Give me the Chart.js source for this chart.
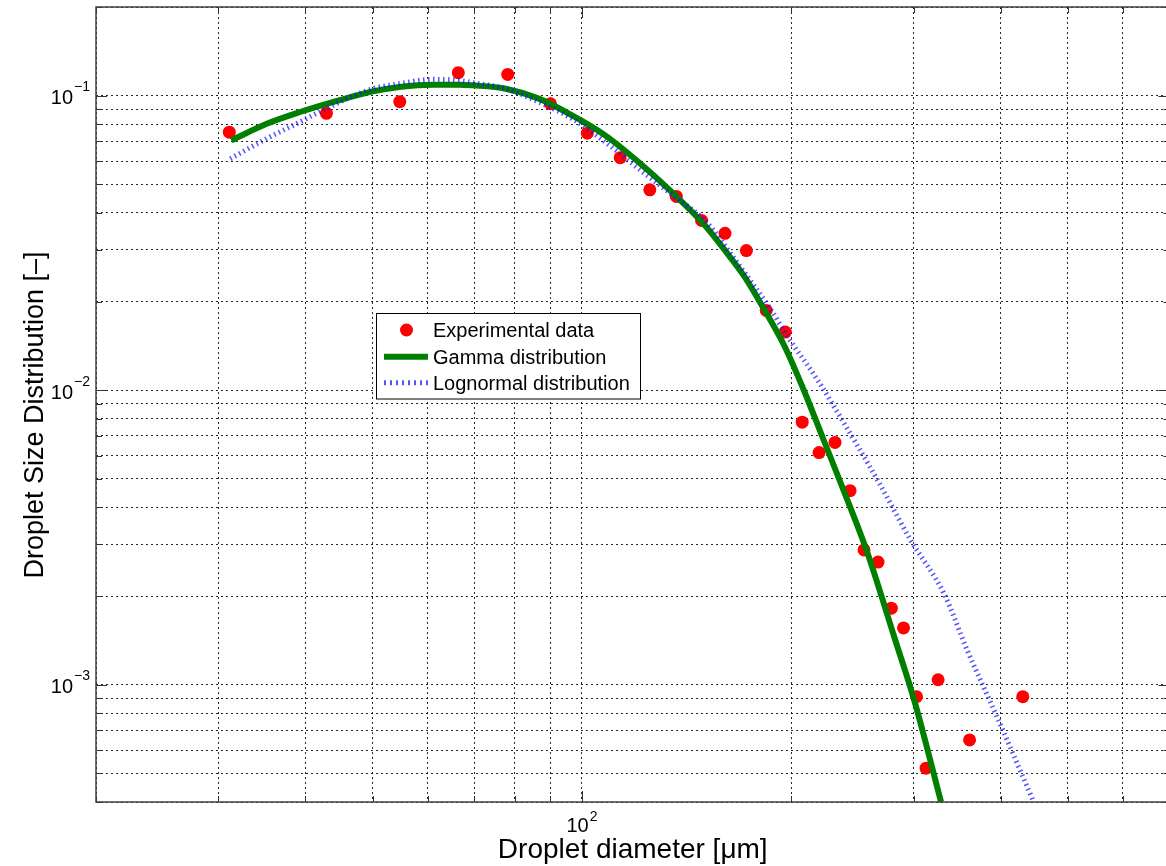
<!DOCTYPE html>
<html>
<head>
<meta charset="utf-8">
<script src="https://cdn.jsdelivr.net/npm/chart.js@4.4.0/dist/chart.umd.min.js"></script>
<style>
  html, body { margin: 0; padding: 0; background: #fff; overflow: hidden; }
  #wrap { width: 1166px; height: 866px; overflow: hidden; }
</style>
</head>
<body>
<div id="wrap"><canvas id="dsdChart" width="1176" height="866"></canvas></div>
<script>
// Experimental data (diameter in µm, distribution [-])
const expDiameter = [31.1, 42.9, 54.7, 66.4, 78.2, 90.1, 101.8, 113.5, 125.2, 136.7, 148.6, 160.6, 172.4, 184.1,
    196.1, 207.4, 219.3, 231.2, 243.0, 254.5, 266.6, 278.6, 290.1, 302.8, 312.6, 325.3, 361.0, 430.6];
const expDsd = [0.0752, 0.0871, 0.0954, 0.1197, 0.1181, 0.0939, 0.0746, 0.0616, 0.0479, 0.0455, 0.0377, 0.0341, 0.0298, 0.01866,
    0.01575, 0.00779, 0.00614, 0.00665, 0.00456, 0.00287, 0.00261, 0.00182, 0.00156, 0.000911, 0.000521, 0.00104, 0.00065, 0.000911];

// Gamma fit
const gammaDiameter = [31.3, 35.2, 39.3, 43.8, 50.0, 54.6, 61.0, 66.6, 69.6, 77.7, 86.7, 96.8, 108, 120.6,
    134.6, 150.3, 160.6, 171.5, 183.2, 195.7, 208.6, 222.8, 238.5, 257.6, 281.4, 300.6, 328.5];
const gammaDsd = [0.0705, 0.0803, 0.088, 0.0951, 0.1034, 0.107, 0.109, 0.109, 0.1084, 0.1056, 0.0977, 0.0857, 0.0733, 0.0595,
    0.0471, 0.03627, 0.02983, 0.02421, 0.01866, 0.01408, 0.00998, 0.00675, 0.0045, 0.00279, 0.00145, 0.000885, 0.0004];

// Lognormal fit
const lognDiameter = [31.2, 35.2, 39.3, 43.8, 50.0, 54.6, 61.0, 66.6, 69.6, 77.7, 86.7, 96.8, 108, 120.6,
    136.1, 150.3, 167.7, 187.2, 197.8, 218.4, 238.5, 266.3, 297.2, 331.7, 358.3, 395.6, 446.6];
const lognDsd = [0.0611, 0.0715, 0.0814, 0.0927, 0.1056, 0.1098, 0.1136, 0.1127, 0.1107, 0.1056, 0.0951, 0.0835, 0.0696, 0.0565,
    0.04525, 0.0377, 0.02689, 0.01866, 0.01515, 0.0108, 0.00769, 0.00494, 0.00309, 0.00204, 0.001308, 0.000776, 0.000399];

// ticks / grid
const xGridTicks = [20, 30, 40, 50, 60, 70, 80, 90, 100, 200, 300, 400, 500, 600, 700];
const xLabelTicks = [100];
const yGridTicks = [0.0004, 0.0005, 0.0006, 0.0007, 0.0008, 0.0009, 0.001,
    0.002, 0.003, 0.004, 0.005, 0.006, 0.007, 0.008, 0.009, 0.01,
    0.02, 0.03, 0.04, 0.05, 0.06, 0.07, 0.08, 0.09, 0.1, 0.2];
const yLabelTicks = [0.001, 0.01, 0.1];

const FONT = '"Liberation Sans", Arial, Helvetica, sans-serif';

function pts(xs, ys) {
    return xs.map((v, i) => ({ x: v, y: ys[i] }));
}

function expText(v) {
    const e = Math.round(Math.log10(v));
    return String(e).replace('-', '\u2212');
}

// MATLAB-like frame, inward ticks, 10^n labels, axis titles and legend
const matlabAxes = {
    id: 'matlabAxes',
    afterDraw(chart) {
        const { ctx, chartArea: a, scales: { x, y } } = chart;
        ctx.save();

        // inward ticks on all four sides
        ctx.strokeStyle = '#333';
        ctx.lineWidth = 1;
        ctx.beginPath();
        xGridTicks.forEach(v => {
            const px = Math.round(x.getPixelForValue(v)) + 0.5;
            const len = xLabelTicks.includes(v) ? 11 : 6;
            ctx.moveTo(px, a.bottom); ctx.lineTo(px, a.bottom - len);
            ctx.moveTo(px, a.top); ctx.lineTo(px, a.top + len);
        });
        yGridTicks.forEach(v => {
            const py = Math.round(y.getPixelForValue(v)) + 0.5;
            const len = yLabelTicks.includes(v) ? 11 : 6;
            ctx.moveTo(a.left, py); ctx.lineTo(a.left + len, py);
            ctx.moveTo(a.right, py); ctx.lineTo(a.right - len, py);
        });
        ctx.stroke();

        ctx.strokeStyle = '#404040';
        ctx.lineWidth = 1.5;
        ctx.strokeRect(a.left, a.top, a.right - a.left, a.bottom - a.top);

        // tick labels 10^n
        ctx.fillStyle = '#000';
        ctx.textAlign = 'left';
        ctx.textBaseline = 'alphabetic';
        const base = '20px ' + FONT, sup = '14px ' + FONT;
        yLabelTicks.forEach(v => {
            const py = y.getPixelForValue(v);
            ctx.font = base; const w1 = ctx.measureText('10').width;
            ctx.font = sup; const w2 = ctx.measureText(expText(v)).width;
            const x0 = a.left - 6 - (w1 + w2 + 1);
            ctx.font = base; ctx.fillText('10', x0, py + 8.5);
            ctx.font = sup; ctx.fillText(expText(v), x0 + w1 + 1, py - 4.5);
        });
        xLabelTicks.forEach(v => {
            const px = x.getPixelForValue(v);
            ctx.font = base; const w1 = ctx.measureText('10').width;
            ctx.font = sup; const w2 = ctx.measureText(expText(v)).width;
            const x0 = px - (w1 + w2 + 1) / 2;
            ctx.font = base; ctx.fillText('10', x0, a.bottom + 30);
            ctx.font = sup; ctx.fillText(expText(v), x0 + w1 + 1, a.bottom + 18.5);
        });

        // axis titles
        ctx.font = '28px ' + FONT;
        ctx.textAlign = 'center';
        ctx.fillText('Droplet diameter [\u03bcm]', (a.left + a.right) / 2, a.bottom + 56);
        ctx.save();
        ctx.font = '27px ' + FONT;
        ctx.translate(43, 415);
        ctx.rotate(-Math.PI / 2);
        ctx.fillText('Droplet Size Distribution [\u2013]', 0, 0);
        ctx.restore();

        // legend box
        const lx = 376.5, ly = 313.5, lw = 264, lh = 85.5;
        ctx.fillStyle = '#fff';
        ctx.fillRect(lx, ly, lw, lh);
        ctx.strokeStyle = '#000';
        ctx.lineWidth = 1;
        ctx.strokeRect(lx, ly, lw, lh);

        const ds = chart.data.datasets;
        const rows = [330, 356.7, 382.7];
        ctx.font = '20px ' + FONT;
        ctx.textAlign = 'left';
        ds.forEach((d, i) => {
            const cy = rows[i];
            if (d.showLine === false) {
                ctx.fillStyle = d.pointBackgroundColor;
                ctx.beginPath();
                ctx.arc(406.5, cy, d.pointRadius, 0, Math.PI * 2);
                ctx.fill();
            } else {
                ctx.strokeStyle = d.borderColor;
                ctx.lineWidth = d.borderWidth;
                ctx.setLineDash(d.legendDash || []);
                ctx.beginPath();
                ctx.moveTo(384, cy); ctx.lineTo(428, cy);
                ctx.stroke();
                ctx.setLineDash([]);
            }
            ctx.fillStyle = '#000';
            ctx.fillText(d.label, 433, cy + 7);
        });

        ctx.restore();
    }
};

const ctx = document.getElementById('dsdChart').getContext('2d');

new Chart(ctx, {
    type: 'scatter',
    data: {
        datasets: [
            {
                label: 'Experimental data',
                data: pts(expDiameter, expDsd),
                showLine: false,
                pointRadius: 6.5,
                pointBackgroundColor: '#ff0000',
                pointBorderWidth: 0,
                borderColor: '#ff0000',
                order: 3
            },
            {
                label: 'Gamma distribution',
                type: 'line',
                data: pts(gammaDiameter, gammaDsd),
                borderColor: '#007f00',
                borderWidth: 6,
                pointRadius: 0,
                cubicInterpolationMode: 'monotone',
                fill: false,
                clip: 0,
                order: 2
            },
            {
                label: 'Lognormal distribution',
                type: 'line',
                data: pts(lognDiameter, lognDsd),
                borderColor: 'rgba(20, 20, 255, 0.72)',
                borderWidth: 5,
                borderDash: [1.5, 3.5],
                legendDash: [2, 4],
                pointRadius: 0,
                cubicInterpolationMode: 'monotone',
                fill: false,
                clip: 0,
                order: 1
            }
        ]
    },
    options: {
        responsive: false,
        animation: false,
        layout: { padding: { top: 7, right: 3, left: 0, bottom: 0 } },
        plugins: {
            legend: { display: false },
            tooltip: { enabled: false }
        },
        scales: {
            x: {
                type: 'logarithmic',
                min: 20,
                max: 700,
                afterBuildTicks: s => { s.ticks = xGridTicks.map(v => ({ value: v })); },
                afterFit: s => { s.height = 64; },
                ticks: { display: false },
                grid: { color: 'rgba(0, 0, 0, 0.85)', lineWidth: 1, drawTicks: false },
                border: { display: false, dash: [2, 3] }
            },
            y: {
                type: 'logarithmic',
                min: 0.0004,
                max: 0.2,
                afterBuildTicks: s => { s.ticks = yGridTicks.map(v => ({ value: v })); },
                afterFit: s => { s.width = 96; },
                ticks: { display: false },
                grid: { color: 'rgba(0, 0, 0, 0.85)', lineWidth: 1, drawTicks: false },
                border: { display: false, dash: [2, 3] }
            }
        }
    },
    plugins: [matlabAxes]
});
</script>
</body>
</html>
